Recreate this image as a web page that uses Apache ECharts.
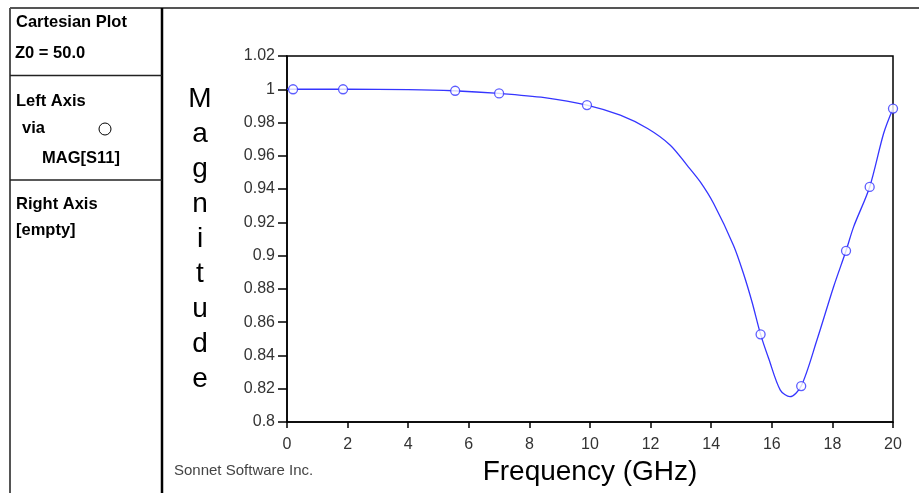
<!DOCTYPE html>
<html>
<head>
<meta charset="utf-8">
<script src="https://cdn.jsdelivr.net/npm/echarts@6/dist/echarts.min.js"></script>
<style>
html,body{margin:0;padding:0;background:#fff;}
#chart{width:919px;height:493px;}
</style>
</head>
<body>
<div id="chart"></div>
<script>
// Frequency (GHz) / magnitude samples along the MAG[S11] curve
const curveFreq = [0, 2, 4, 5.5, 7.0, 8.5, 9.9, 11.0, 11.9, 12.65, 13.2, 13.64, 14.08, 14.74, 15.07, 15.35, 15.63, 15.9, 16.28, 16.6, 16.97, 17.49, 18.04, 18.45, 18.7, 19.23, 19.69, 20];
const curveMag  = [1.0, 1.0, 0.9998, 0.9991, 0.9975, 0.995, 0.9905, 0.9844, 0.9764, 0.9664, 0.9544, 0.9443, 0.9313, 0.906, 0.889, 0.872, 0.8527, 0.838, 0.8192, 0.8152, 0.8216, 0.8493, 0.8813, 0.9029, 0.9173, 0.9413, 0.9734, 0.9884];
// Marked data points
const markFreq = [0.2, 1.85, 5.55, 7.0, 9.9, 15.63, 16.97, 18.45, 19.23, 20];
const markMag  = [1.0, 1.0, 0.9991, 0.9975, 0.9905, 0.8527, 0.8216, 0.9029, 0.9413, 0.9884];
// Axis settings
const xTicks = {min: 0, max: 20, interval: 2};
const yTicks = {min: 0.8, max: 1.02, interval: 0.02};
const xTitle = 'Frequency (GHz)';
const yTitle = 'Magnitude';
const panelText = ['Cartesian Plot', 'Z0 = 50.0', 'Left Axis', 'via', 'MAG[S11]', 'Right Axis', '[empty]'];
const footer = 'Sonnet Software Inc.';

const curveData = curveFreq.map((f, i) => [f, curveMag[i]]);
const markData = markFreq.map((f, i) => [f, markMag[i]]);
const blue = '#3535ff';
const panelFont = 'bold 16.5px "Liberation Sans", Arial, sans-serif';
const family = '"Liberation Sans", Arial, sans-serif';

const chart = echarts.init(document.getElementById('chart'), null, {renderer: 'canvas'});
chart.setOption({
  backgroundColor: '#fff',
  animation: false,
  grid: {left: 287, right: 26, top: 56, bottom: 71, show: true, borderColor: '#000', borderWidth: 1.5, containLabel: false},
  xAxis: {
    type: 'value', min: xTicks.min, max: xTicks.max, interval: xTicks.interval,
    name: xTitle, nameLocation: 'middle', nameGap: 36,
    nameTextStyle: {fontFamily: family, fontSize: 28, color: '#000'},
    axisLine: {show: true, onZero: false, lineStyle: {color: '#000', width: 1.5}},
    axisTick: {show: true, inside: false, length: 6, lineStyle: {color: '#000', width: 1.5}},
    axisLabel: {fontFamily: family, fontSize: 16, color: '#333', margin: 15},
    splitLine: {show: false}
  },
  yAxis: {
    type: 'value', min: yTicks.min, max: yTicks.max, interval: yTicks.interval,
    name: yTitle.split('').join('\n'), nameLocation: 'middle', nameGap: 87, nameRotate: 0,
    nameTextStyle: {fontFamily: family, fontSize: 28, color: '#000', lineHeight: 35, align: 'center', verticalAlign: 'middle'},
    axisLine: {show: true, onZero: false, lineStyle: {color: '#000', width: 1.5}},
    axisTick: {show: true, inside: false, length: 9, lineStyle: {color: '#000', width: 1.5}},
    axisLabel: {fontFamily: family, fontSize: 16, color: '#333', margin: 12},
    splitLine: {show: false}
  },
  series: [
    {type: 'line', data: curveData, smooth: 0.3, showSymbol: false, symbol: 'none',
     lineStyle: {color: blue, width: 1.3}, z: 2},
    {type: 'scatter', data: markData, symbol: 'circle', symbolSize: 9,
     itemStyle: {color: '#fff', borderColor: blue, borderWidth: 1.3}, z: 3}
  ],
  graphic: [
    {type: 'line', shape: {x1: 10, y1: 8, x2: 919, y2: 8}, style: {stroke: '#555', lineWidth: 2}},
    {type: 'line', shape: {x1: 10, y1: 8, x2: 10, y2: 493}, style: {stroke: '#555', lineWidth: 2}},
    {type: 'line', shape: {x1: 162, y1: 8, x2: 162, y2: 493}, style: {stroke: '#000', lineWidth: 2.5}},
    {type: 'line', shape: {x1: 10, y1: 75.5, x2: 162, y2: 75.5}, style: {stroke: '#222', lineWidth: 1.5}},
    {type: 'line', shape: {x1: 10, y1: 180, x2: 162, y2: 180}, style: {stroke: '#222', lineWidth: 1.5}},
    {type: 'text', left: 16, top: 14, style: {text: panelText[0], font: panelFont, fill: '#000'}},
    {type: 'text', left: 15, top: 45, style: {text: panelText[1], font: panelFont, fill: '#000'}},
    {type: 'text', left: 16, top: 93, style: {text: panelText[2], font: panelFont, fill: '#000'}},
    {type: 'text', left: 22, top: 120, style: {text: panelText[3], font: panelFont, fill: '#000'}},
    {type: 'circle', shape: {cx: 105, cy: 129, r: 6}, style: {fill: '#fff', stroke: '#000', lineWidth: 1}},
    {type: 'text', left: 42, top: 150, style: {text: panelText[4], font: panelFont, fill: '#000'}},
    {type: 'text', left: 16, top: 196, style: {text: panelText[5], font: panelFont, fill: '#000'}},
    {type: 'text', left: 16, top: 222, style: {text: panelText[6], font: panelFont, fill: '#000'}},
    {type: 'text', left: 174, top: 463, style: {text: footer, font: '15px "Liberation Sans", Arial, sans-serif', fill: '#444'}}
  ]
});
</script>
</body>
</html>
